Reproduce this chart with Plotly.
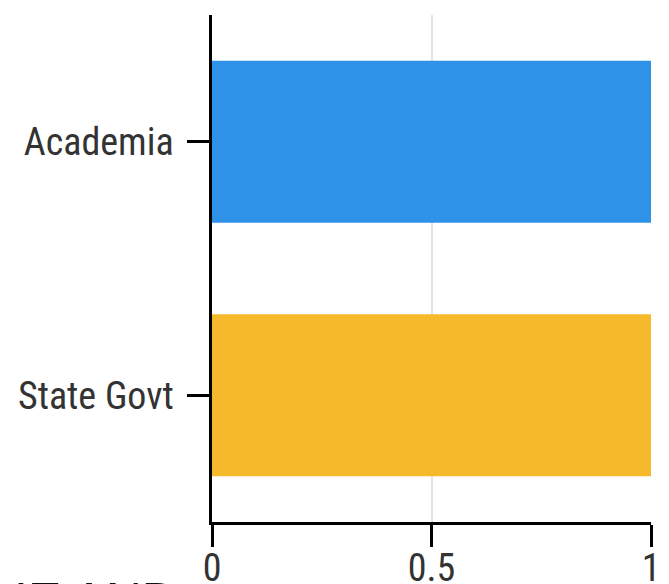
import plotly.graph_objects as go

categories = ["Academia", "State Govt"]
values = [1, 1]
colors = ["#2E93E8", "#F6B92B"]
x_tickvals = [0, 0.5, 1]
x_ticktext = ["0", "0.5", "1"]
cut_title = "IE AND"

fig = go.Figure()
fig.add_trace(go.Bar(
    y=categories, x=values, orientation="h",
    marker=dict(color=colors, line=dict(width=0)),
    showlegend=False,
))

tickfont = dict(family="Roboto Condensed, Liberation Sans Narrow, DejaVu Sans Condensed, Roboto",
                size=38, color="#333333")
fig.update_layout(
    width=669, height=584,
    margin=dict(l=204, r=26, t=7, b=70),
    paper_bgcolor="white", plot_bgcolor="white",
    bargap=0.36,
    xaxis=dict(
        range=[0, 1], tickvals=x_tickvals, ticktext=x_ticktext,
        showgrid=True, gridcolor="#E3E3E3", gridwidth=2,
        showline=True, linecolor="black", linewidth=2.5,
        ticks="outside", ticklen=22, tickwidth=2.5, tickcolor="black",
        ticklabelstandoff=-11,
        tickfont=tickfont, zeroline=False, fixedrange=True,
        automargin=False,
    ),
    yaxis=dict(
        autorange="reversed",
        showgrid=False,
        showline=True, linecolor="black", linewidth=2.5,
        ticks="outside", ticklen=22, tickwidth=2.5, tickcolor="black",
        ticklabelstandoff=6,
        tickfont=tickfont, fixedrange=True, automargin=False,
    ),
    annotations=[dict(
        text=cut_title, xref="paper", yref="paper",
        x=(4 - 204) / 439, y=(514 - 563) / 507,
        xanchor="left", yanchor="top", showarrow=False,
        font=dict(family="Liberation Sans", size=50, color="#111111"),
    )],
)

fig.write_html("out.html")
